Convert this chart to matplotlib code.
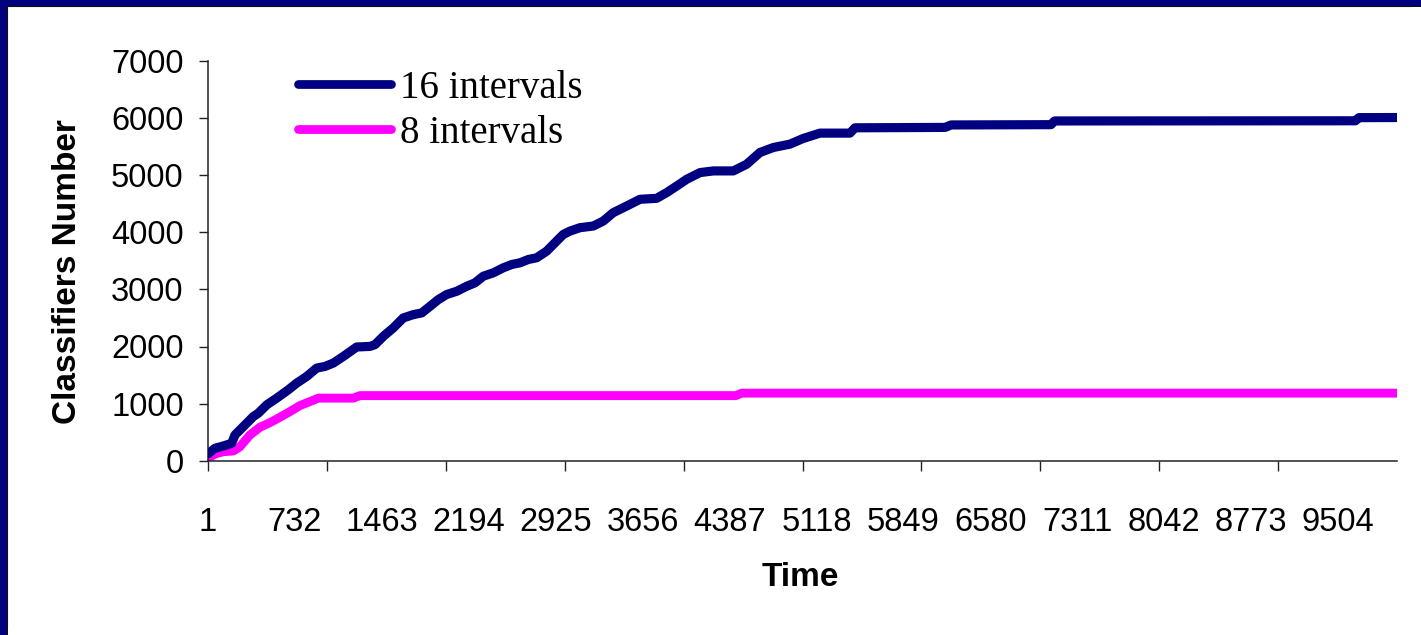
import matplotlib
matplotlib.use("Agg")
import matplotlib.pyplot as plt
from matplotlib.patches import Rectangle
from matplotlib.lines import Line2D

# ---- data ----
time_16 = [1, 60, 130, 200, 228, 298, 382, 424, 495, 579, 676, 747, 831, 915,
           985, 1055, 1139, 1251, 1363, 1405, 1475, 1559, 1643, 1727, 1798,
           1868, 1938, 2008, 2093, 2177, 2246, 2316, 2400, 2484, 2555, 2625,
           2695, 2765, 2849, 2919, 2989, 3045, 3129, 3241, 3325, 3409, 3522,
           3634, 3774, 3858, 3943, 4027, 4139, 4251, 4419, 4531, 4643, 4755,
           4895, 5007, 5148, 5400, 5442, 6200, 6250, 7090, 7120, 9650, 9680,
           10000]
vals_16 = [120, 218, 258, 305, 451, 597, 773, 832, 978, 1096, 1241, 1359, 1475,
           1622, 1651, 1710, 1826, 1991, 2002, 2032, 2177, 2325, 2500, 2558,
           2588, 2704, 2822, 2910, 2968, 3055, 3115, 3231, 3290, 3378, 3436,
           3466, 3524, 3554, 3670, 3817, 3963, 4021, 4081, 4110, 4197, 4344,
           4460, 4578, 4595, 4695, 4811, 4929, 5046, 5075, 5075, 5192, 5398,
           5485, 5544, 5644, 5737, 5737, 5830, 5837, 5880, 5885, 5950, 5953,
           6008, 6010]

time_8 = [1, 60, 130, 214, 270, 354, 438, 522, 607, 691, 775, 859, 929, 1223,
          1279, 4440, 4490, 10000]
vals_8 = [42, 117, 158, 170, 246, 451, 586, 667, 762, 861, 966, 1036, 1096,
          1096, 1140, 1140, 1183, 1183]

series_names = ["16 intervals", "8 intervals"]
series_colors = ["#000080", "#FF00FF"]

y_ticks = [0, 1000, 2000, 3000, 4000, 5000, 6000, 7000]
x_tick_labels = [1, 732, 1463, 2194, 2925, 3656, 4387, 5118, 5849, 6580,
                 7311, 8042, 8773, 9504]
x_tick_marks = [1, 1001, 2001, 3001, 4001, 5001, 6001, 7001, 8001, 9001]

x_title = "Time"
y_title = "Classifiers Number"

# ---- figure ----
W, H = 1421, 635
fig = plt.figure(figsize=(W / 100, H / 100), dpi=100, facecolor="white")
fig.patch.set_edgecolor("white")
fig.patch.set_linewidth(0)

# slide border (top and left only)
fig.add_artist(Rectangle((0, 1 - 6 / H), 1, 6 / H, transform=fig.transFigure,
                         facecolor="#02027e", edgecolor="none", lw=0, zorder=0))
fig.add_artist(Rectangle((0, 0), 7 / W, 1, transform=fig.transFigure,
                         facecolor="#02027e", edgecolor="none", lw=0, zorder=0))
fig.add_artist(Line2D([7 / W, 1], [1 - 6 / H, 1 - 6 / H], transform=fig.transFigure,
                      color="#111111", lw=0.8))
fig.add_artist(Line2D([7 / W, 7 / W], [0, 1 - 6 / H], transform=fig.transFigure,
                      color="#111111", lw=0.8))
# keep right and bottom edges white
fig.add_artist(Rectangle((1 - 8 / W, 0), 8 / W, 1 - 7 / H, transform=fig.transFigure,
                         facecolor="white", edgecolor="none", lw=0, zorder=5))
fig.add_artist(Rectangle((8 / W, 0), 1, 8 / H, transform=fig.transFigure,
                         facecolor="white", edgecolor="none", lw=0, zorder=5))

ax = fig.add_axes([208 / W, 1 - 460.7 / H, (1397 - 208) / W, (460.7 - 61) / H])
ax.set_facecolor("none")

ax.plot(time_16, vals_16, color=series_colors[0], lw=6.6, label=series_names[0],
        solid_capstyle="round", solid_joinstyle="round", zorder=3)
ax.plot(time_8, vals_8, color=series_colors[1], lw=6.4, label=series_names[1],
        solid_capstyle="round", solid_joinstyle="round", zorder=2)

ax.set_xlim(1, 10000)
ax.set_ylim(0, 7000)

for s in ["top", "right"]:
    ax.spines[s].set_visible(False)
for s in ["left", "bottom"]:
    ax.spines[s].set_color("#222222")
    ax.spines[s].set_linewidth(1.1)

ax.set_yticks(y_ticks)
ax.set_yticklabels([str(v) for v in y_ticks], fontfamily="Liberation Sans", fontsize=23.5)
ax.tick_params(axis="y", direction="out", length=6.5, width=1.0, color="#222222", pad=11)

ax.xaxis.remove_overlapping_locs = False
ax.set_xticks(x_tick_marks)
ax.set_xticklabels([])
ax.tick_params(axis="x", which="major", direction="out", length=7, width=1.0, color="#222222")
ax.set_xticks(x_tick_labels, minor=True)
ax.set_xticklabels([str(v) for v in x_tick_labels], minor=True,
                   fontfamily="Liberation Sans", fontsize=23.5)
ax.tick_params(axis="x", which="minor", length=0, pad=33)

fig.text(68 / W, 1 - 271.5 / H, y_title, rotation=90, ha="center", va="center",
         fontfamily="Liberation Sans", fontweight="bold", fontsize=24)
fig.text(800 / W, 1 - 577 / H, x_title, ha="center", va="center",
         fontfamily="Liberation Sans", fontweight="bold", fontsize=24)

leg = ax.legend(loc="upper left", bbox_to_anchor=(298 / W, 1 - 70 / H),
                bbox_transform=fig.transFigure, frameon=False,
                prop={"family": "Liberation Serif", "size": 28},
                handlelength=2.4, handletextpad=0.22, labelspacing=0.2,
                borderpad=0, borderaxespad=0)
for lh in leg.get_lines():
    lh.set_linewidth(6.3)
    lh.set_solid_capstyle("round")

fig.savefig("out.png", dpi=100, facecolor="white")
